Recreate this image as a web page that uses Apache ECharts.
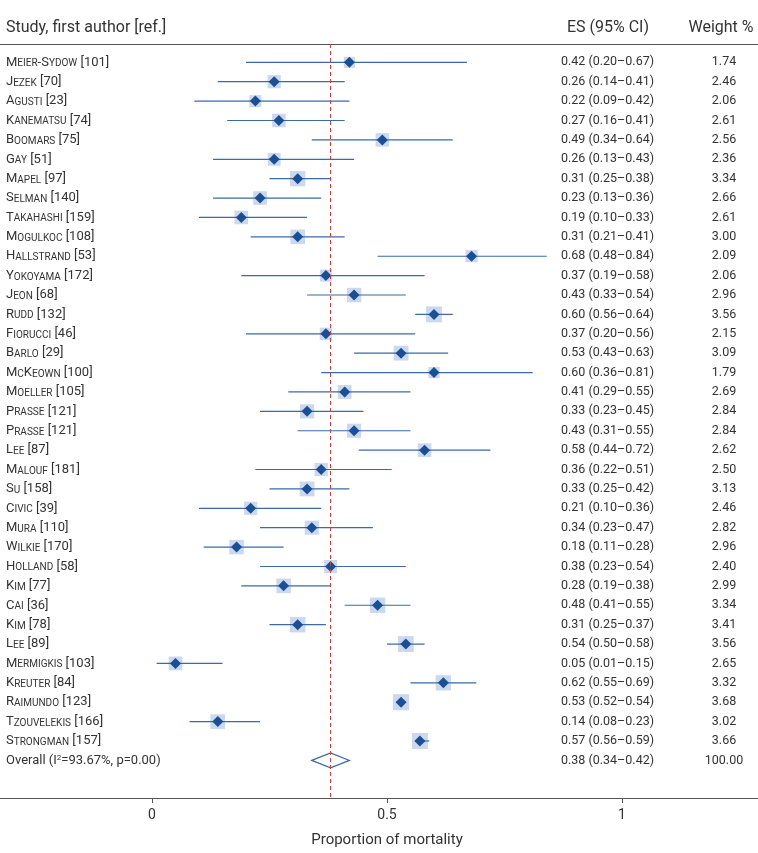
<!DOCTYPE html>
<html><head><meta charset="utf-8">
<script src="https://cdn.jsdelivr.net/npm/echarts@6/dist/echarts.min.js"></script>
<style>html,body{margin:0;padding:0;background:#fff}#c{width:758px;height:853px}</style>
</head><body><div id="c"></div>
<script>
const studyNames = ['Meier-Sydow','Jezek','Agusti','Kanematsu','Boomars','Gay','Mapel','Selman','Takahashi','Mogulkoc','Hallstrand','Yokoyama','Jeon','Rudd','Fiorucci','Barlo','McKeown','Moeller','Prasse','Prasse','Lee','Malouf','Su','Civic','Mura','Wilkie','Holland','Kim','Cai','Kim','Lee','Mermigkis','Kreuter','Raimundo','Tzouvelekis','Strongman'];
const studyRefs = [101,70,23,74,75,51,97,140,159,108,53,172,68,132,46,29,100,105,121,121,87,181,158,39,110,170,58,77,36,78,89,103,84,123,166,157];
const esValues = [0.42,0.26,0.22,0.27,0.49,0.26,0.31,0.23,0.19,0.31,0.68,0.37,0.43,0.60,0.37,0.53,0.60,0.41,0.33,0.43,0.58,0.36,0.33,0.21,0.34,0.18,0.38,0.28,0.48,0.31,0.54,0.05,0.62,0.53,0.14,0.57];
const ciLow = [0.20,0.14,0.09,0.16,0.34,0.13,0.25,0.13,0.10,0.21,0.48,0.19,0.33,0.56,0.20,0.43,0.36,0.29,0.23,0.31,0.44,0.22,0.25,0.10,0.23,0.11,0.23,0.19,0.41,0.25,0.50,0.01,0.55,0.52,0.08,0.56];
const ciHigh = [0.67,0.41,0.42,0.41,0.64,0.43,0.38,0.36,0.33,0.41,0.84,0.58,0.54,0.64,0.56,0.63,0.81,0.55,0.45,0.55,0.72,0.51,0.42,0.36,0.47,0.28,0.54,0.38,0.55,0.37,0.58,0.15,0.69,0.54,0.23,0.59];
const weights = [1.74,2.46,2.06,2.61,2.56,2.36,3.34,2.66,2.61,3.00,2.09,2.06,2.96,3.56,2.15,3.09,1.79,2.69,2.84,2.84,2.62,2.50,3.13,2.46,2.82,2.96,2.40,2.99,3.34,3.41,3.56,2.65,3.32,3.68,3.02,3.66];
const overallES = 0.38, overallLow = 0.34, overallHigh = 0.42, overallWeight = 100.00;
const overallI2 = '93.67%', overallP = '0.00';
const xTicks = [0, 0.5, 1];
const headerStudy = 'Study, first author [ref.]';
const headerES = 'ES (95% CI)';
const headerWeight = 'Weight %';
const axisTitle = 'Proportion of mortality';

const FONT = 'Roboto, "Noto Sans", sans-serif';
const TXT = '#333333';
const nRows = studyNames.length; // overall row index = nRows

function smallCaps(name) {
  let out = '', cur = null, buf = '';
  const flush = () => { if (buf) out += '{' + cur + '|' + buf + '}'; buf = ''; };
  for (const ch of name) {
    const t = /[a-z]/.test(ch) ? 's' : 'b';
    const c = t === 's' ? ch.toUpperCase() : ch;
    if (t !== cur) { flush(); cur = t; }
    buf += c;
  }
  flush();
  return out;
}
function fmtCI(e, l, h) { return e.toFixed(2) + ' (' + l.toFixed(2) + '–' + h.toFixed(2) + ')'; }

const richName = {
  b: { fontSize: 13, fontFamily: FONT, color: TXT, verticalAlign: 'bottom' },
  s: { fontSize: 10, fontFamily: FONT, color: TXT, verticalAlign: 'bottom' },
  n: { fontSize: 13, fontFamily: FONT, color: TXT, verticalAlign: 'bottom' },
  sup: { fontSize: 8, fontFamily: FONT, color: TXT, verticalAlign: 'top' }
};

const markData = studyNames.map((n, i) => [esValues[i], i, ciLow[i], ciHigh[i], weights[i]]);
const textData = studyNames.map((n, i) => [0, i]).concat([[0, nRows]]);

const chart = echarts.init(document.getElementById('c'), null, { renderer: 'canvas' });
chart.setOption({
  animation: false,
  backgroundColor: '#fff',
  grid: { left: 0, right: 0, top: 44, bottom: 48, containLabel: false },
  xAxis: [{
    type: 'value', min: -0.3234, max: 1.2894, position: 'bottom',
    axisLine: { show: true, onZero: false, lineStyle: { color: '#555', width: 1 } },
    axisTick: { show: true, customValues: xTicks, length: 5, lineStyle: { color: '#555' } },
    axisLabel: { customValues: xTicks, fontSize: 14, color: TXT, fontFamily: FONT, margin: 10,
      formatter: v => String(v) },
    splitLine: { show: false },
    name: axisTitle, nameLocation: 'middle', nameGap: 35,
    nameTextStyle: { fontSize: 15, color: TXT, fontFamily: FONT, padding: [0, 0, 0, 16] }
  }, {
    type: 'value', min: -0.3234, max: 1.2894, position: 'top',
    axisLine: { show: true, onZero: false, lineStyle: { color: '#555', width: 1 } },
    axisTick: { show: false }, axisLabel: { show: false }, splitLine: { show: false }
  }],
  yAxis: { type: 'value', inverse: true, min: -0.945, max: 37.94, show: false },
  graphic: [
    { type: 'text', x: 6, y: 28, style: { text: headerStudy, fontSize: 16, fontFamily: FONT, fill: TXT, verticalAlign: 'middle', textVerticalAlign: 'middle' } },
    { type: 'text', x: 608, y: 28, style: { text: headerES, fontSize: 16, fontFamily: FONT, fill: TXT, align: 'center', textAlign: 'center', verticalAlign: 'middle', textVerticalAlign: 'middle' } },
    { type: 'text', x: 721, y: 28, style: { text: headerWeight, fontSize: 16, fontFamily: FONT, fill: TXT, align: 'center', textAlign: 'center', verticalAlign: 'middle', textVerticalAlign: 'middle' } }
  ],
  series: [
    {
      type: 'custom', xAxisIndex: 0, yAxisIndex: 0, data: markData, silent: true,
      renderItem: (params, api) => {
        const i = api.value(1);
        const c = api.coord([api.value(0), i]);
        const l = api.coord([api.value(2), i]);
        const h = api.coord([api.value(3), i]);
        const side = 8.4 * Math.sqrt(api.value(4));
        const d = 5.5;
        return { type: 'group', children: [
          { type: 'rect', shape: { x: c[0] - side / 2, y: c[1] - side / 2, width: side, height: side }, style: { fill: '#cbd8ed' } },
          { type: 'line', shape: { x1: l[0], y1: l[1], x2: h[0], y2: h[1] }, style: { stroke: '#3a6aaa', lineWidth: 1.2 } },
          { type: 'polygon', shape: { points: [[c[0], c[1] - d], [c[0] + d, c[1]], [c[0], c[1] + d], [c[0] - d, c[1]]] }, style: { fill: '#1b4f95' } }
        ] };
      },
      markLine: {
        silent: true, symbol: 'none', label: { show: false },
        lineStyle: { color: '#c8413c', type: [4, 3], width: 1 },
        data: [{ xAxis: overallES }]
      }
    },
    {
      type: 'custom', xAxisIndex: 0, yAxisIndex: 0, data: [[overallES, nRows, overallLow, overallHigh]], silent: true, z: 3,
      renderItem: (params, api) => {
        const i = api.value(1);
        const c = api.coord([api.value(0), i]);
        const l = api.coord([api.value(2), i]);
        const h = api.coord([api.value(3), i]);
        const hh = 7.5;
        return { type: 'polygon', shape: { points: [[l[0], c[1]], [c[0], c[1] - hh], [h[0], c[1]], [c[0], c[1] + hh]] },
          style: { fill: 'none', stroke: '#3a6aaa', lineWidth: 1.2 } };
      }
    },
    {
      type: 'custom', xAxisIndex: 0, yAxisIndex: 0, data: textData, silent: true,
      renderItem: (params, api) => {
        const i = api.value(1);
        const y = api.coord([0, i])[1];
        let nameText, esText, wText;
        if (i < nRows) {
          nameText = smallCaps(studyNames[i]) + '{n| [' + studyRefs[i] + ']}';
          esText = fmtCI(esValues[i], ciLow[i], ciHigh[i]);
          wText = weights[i].toFixed(2);
        } else {
          nameText = '{n|Overall (I}{sup|2}{n|=' + overallI2 + ', p=' + overallP + ')}';
          esText = fmtCI(overallES, overallLow, overallHigh);
          wText = overallWeight.toFixed(2);
        }
        return { type: 'group', children: [
          { type: 'text', x: 6, y: y, style: { text: nameText, rich: richName, fontSize: 13, fontFamily: FONT, fill: TXT, verticalAlign: 'middle', textVerticalAlign: 'middle' } },
          { type: 'text', x: 561, y: y, style: { text: esText, fontSize: 12.5, fontFamily: FONT, fill: TXT, verticalAlign: 'middle', textVerticalAlign: 'middle' } },
          { type: 'text', x: 724, y: y, style: { text: wText, fontSize: 12.5, fontFamily: FONT, fill: TXT, align: 'center', textAlign: 'center', verticalAlign: 'middle', textVerticalAlign: 'middle' } }
        ] };
      }
    }
  ]
});
</script></body></html>
